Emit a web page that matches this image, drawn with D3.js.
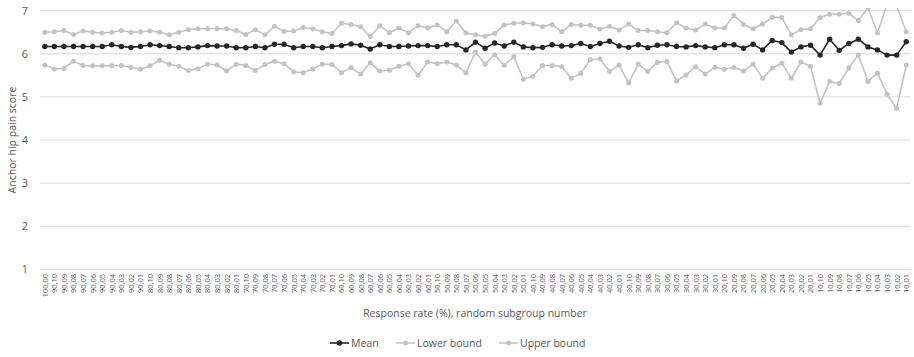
<!DOCTYPE html>
<html>
<head>
<meta charset="utf-8">
<script src="https://cdn.jsdelivr.net/npm/d3@7"></script>
<style>
  html, body { margin: 0; padding: 0; background: #fff; }
  svg { display: block; font-family: "Open Sans", "Liberation Sans", sans-serif; }
</style>
</head>
<body>
<svg id="chart" width="914" height="357"></svg>
<script>
// Response rate (%), random subgroup number
const categories = [
  "100,00",
  "90,10","90,09","90,08","90,07","90,06","90,05","90,04","90,03","90,02","90,01",
  "80,10","80,09","80,08","80,07","80,06","80,05","80,04","80,03","80,02","80,01",
  "70,10","70,09","70,08","70,07","70,06","70,05","70,04","70,03","70,02","70,01",
  "60,10","60,09","60,08","60,07","60,06","60,05","60,04","60,03","60,02","60,01",
  "50,10","50,09","50,08","50,07","50,06","50,05","50,04","50,03","50,02","50,01",
  "40,10","40,09","40,08","40,07","40,06","40,05","40,04","40,03","40,02","40,01",
  "30,10","30,09","30,08","30,07","30,06","30,05","30,04","30,03","30,02","30,01",
  "20,10","20,09","20,08","20,07","20,06","20,05","20,04","20,03","20,02","20,01",
  "10,10","10,09","10,08","10,07","10,06","10,05","10,04","10,03","10,02","10,01"
];

const meanValues = [
  6.17,
  6.17,6.17,6.17,6.17,6.17,6.17,6.21,6.17,6.15,6.17,
  6.21,6.19,6.17,6.14,6.14,6.16,6.19,6.18,6.18,6.14,
  6.14,6.17,6.14,6.22,6.22,6.14,6.17,6.17,6.14,6.17,
  6.19,6.23,6.20,6.11,6.21,6.17,6.17,6.18,6.19,6.19,
  6.17,6.21,6.21,6.09,6.27,6.13,6.25,6.18,6.27,6.16,
  6.14,6.15,6.21,6.18,6.19,6.24,6.17,6.24,6.29,6.18,
  6.15,6.21,6.14,6.20,6.21,6.17,6.16,6.19,6.16,6.14,
  6.21,6.21,6.13,6.22,6.09,6.31,6.26,6.04,6.16,6.20,
  5.97,6.34,6.08,6.24,6.34,6.16,6.09,5.97,5.97,6.28
];

const lowerValues = [
  5.74,
  5.65,5.66,5.83,5.73,5.72,5.72,5.73,5.73,5.68,5.64,
  5.72,5.85,5.76,5.71,5.61,5.65,5.76,5.74,5.60,5.76,
  5.73,5.61,5.75,5.83,5.77,5.58,5.56,5.65,5.76,5.75,
  5.56,5.68,5.53,5.79,5.60,5.62,5.71,5.77,5.50,5.81,
  5.77,5.81,5.74,5.56,6.04,5.76,5.98,5.73,5.94,5.41,
  5.48,5.73,5.73,5.70,5.43,5.55,5.86,5.88,5.59,5.74,
  5.32,5.76,5.59,5.80,5.82,5.37,5.51,5.70,5.53,5.69,
  5.64,5.68,5.60,5.76,5.43,5.67,5.78,5.43,5.81,5.71,
  4.85,5.36,5.31,5.67,5.97,5.36,5.55,5.06,4.73,5.74
];

const upperValues = [
  6.50,
  6.51,6.54,6.45,6.53,6.50,6.48,6.50,6.54,6.50,6.51,
  6.53,6.50,6.44,6.50,6.56,6.58,6.58,6.58,6.58,6.54,
  6.45,6.56,6.44,6.64,6.52,6.53,6.61,6.58,6.51,6.47,
  6.71,6.68,6.63,6.40,6.65,6.49,6.60,6.49,6.65,6.60,
  6.67,6.51,6.76,6.48,6.44,6.41,6.47,6.67,6.71,6.72,
  6.69,6.63,6.68,6.51,6.68,6.66,6.66,6.57,6.64,6.55,
  6.69,6.54,6.54,6.51,6.49,6.72,6.60,6.55,6.69,6.60,
  6.60,6.89,6.68,6.58,6.69,6.85,6.84,6.44,6.56,6.58,
  6.84,6.92,6.92,6.94,6.77,7.06,6.49,7.14,7.12,6.51
];

const yTicks = [1, 2, 3, 4, 5, 6, 7];

const seriesList = [
  { name: "Mean", values: meanValues, color: "#262626", r: 2.7 },
  { name: "Lower bound", values: lowerValues, color: "#c3c3c6", r: 2.5 },
  { name: "Upper bound", values: upperValues, color: "#c3c3c6", r: 2.5 }
];

const svg = d3.select("#chart");
const textColor = "#595959";

const x = d3.scalePoint().domain(categories).range([40, 911]).padding(0.5);
const y = d3.scaleLinear().domain([1, 7]).range([269.3, 10.7]);

// Horizontal gridlines
svg.append("g")
  .selectAll("line")
  .data(yTicks)
  .join("line")
  .attr("x1", 40).attr("x2", 911)
  .attr("y1", d => y(d)).attr("y2", d => y(d))
  .attr("stroke", "#d9d9d9").attr("stroke-width", 1);

// Y axis labels
const yAxis = d3.axisLeft(y).tickValues(yTicks).tickSize(0).tickPadding(0).tickFormat(d3.format("d"));
svg.append("g")
  .attr("transform", "translate(28,0)")
  .call(yAxis)
  .call(g => g.select(".domain").remove())
  .call(g => g.selectAll("text")
    .attr("fill", textColor)
    .attr("font-size", 11)
    .attr("font-family", "\"Open Sans\", sans-serif"));

// X axis category labels (vertical)
const xAxis = d3.axisBottom(x).tickSize(0).tickPadding(0);
svg.append("g")
  .attr("transform", "translate(0,274)")
  .call(xAxis)
  .call(g => g.select(".domain").remove())
  .call(g => g.selectAll("text")
    .attr("fill", textColor)
    .attr("font-size", 7.5)
    .attr("font-family", "\"Open Sans\", sans-serif")
    .attr("text-anchor", "end")
    .attr("dy", "0.32em")
    .attr("transform", "rotate(-90)")
    .attr("x", 0).attr("y", 0));

// Axis titles
svg.append("text")
  .attr("x", 475).attr("y", 317)
  .attr("text-anchor", "middle")
  .attr("fill", textColor)
  .attr("font-size", 10.5)
  .text("Response rate (%), random subgroup number");

svg.append("text")
  .attr("transform", "translate(16,140) rotate(-90)")
  .attr("text-anchor", "middle")
  .attr("fill", textColor)
  .attr("font-size", 10.5)
  .text("Anchor hip pain score");

// Plot clip
svg.append("clipPath").attr("id", "plotClip")
  .append("rect").attr("x", 30).attr("y", 8).attr("width", 890).attr("height", 270);

const line = d3.line()
  .x((d, i) => x(categories[i]))
  .y(d => y(d));

const plot = svg.append("g").attr("clip-path", "url(#plotClip)");

// Draw bounds first, mean on top
[seriesList[2], seriesList[1], seriesList[0]].forEach(s => {
  const g = plot.append("g");
  g.append("path")
    .datum(s.values)
    .attr("d", line)
    .attr("fill", "none")
    .attr("stroke", s.color)
    .attr("stroke-width", 1.6)
    .attr("stroke-linejoin", "round");
  g.selectAll("circle")
    .data(s.values)
    .join("circle")
    .attr("cx", (d, i) => x(categories[i]))
    .attr("cy", d => y(d))
    .attr("r", s.r)
    .attr("fill", s.color);
});

// Legend
const legendItems = [
  { s: seriesList[0], x0: 330 },
  { s: seriesList[1], x0: 396 },
  { s: seriesList[2], x0: 499 }
];
const lg = svg.append("g");
legendItems.forEach(item => {
  const gy = 343;
  lg.append("line")
    .attr("x1", item.x0).attr("x2", item.x0 + 19)
    .attr("y1", gy).attr("y2", gy)
    .attr("stroke", item.s.color).attr("stroke-width", 1.6);
  lg.append("circle")
    .attr("cx", item.x0 + 9.5).attr("cy", gy).attr("r", item.s.r)
    .attr("fill", item.s.color);
  lg.append("text")
    .attr("x", item.x0 + 21).attr("y", gy)
    .attr("dy", "0.35em")
    .attr("fill", textColor)
    .attr("font-size", 10.5)
    .text(item.s.name);
});
</script>
</body>
</html>
